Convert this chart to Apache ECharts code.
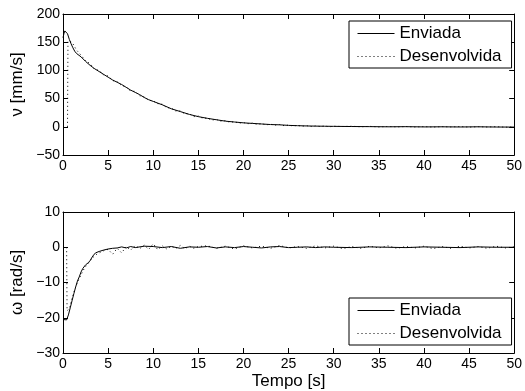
<!DOCTYPE html>
<html><head><meta charset="utf-8">
<script src="https://cdn.jsdelivr.net/npm/echarts@6/dist/echarts.min.js"></script>
<style>html,body{margin:0;padding:0;background:#fff}#c{width:525px;height:391px}</style>
</head><body><div id="c"></div>
<script>
// Top: linear velocity v [mm/s]
const tEnvV = [0,0.1,0.2,0.3,0.4,0.5,0.7,0.9,1.1,1.3,1.5,2,2.5,3,3.5,4,4.5,5,5.5,6,6.5,7,7.5,8,8.5,9,9.5,10,11,12,13,14,15,16,17,18,19,20,21,22,23,24,25,26,27,28,29,30,32,34,36,38,40,42,44,46,48,50];
const vEnv = [158,165,170,172,170,165,155,147,140,134,130,124,116,109,103,98,93,88,83,79,75,70,65,61,57,52,48,45,39,32,27,22,18,15,12.5,10,8.5,7,6,5,4,3.5,2.5,2,1.5,1.2,1,0.8,0.5,0.3,0,0.2,-0.2,0,-0.3,0,-0.4,-0.5];
const tDesV = [0.5,0.55,1,1.5,2,2.5,3,3.5,4,4.5,5,5.5,6,6.5,7,7.5,8,8.5,9,9.5,10,10.5,11,11.5,12,12.5,13,13.5,14,14.5,15,15.5,16,16.5,17,17.5,18,18.5,19,19.5,20,20.5,21,21.5,22,22.5,23,23.5,24,24.5,25,25.5,26,26.5,27,27.5,28,28.5,29,29.5,30,31,32,33,34,35,36,37,38,39,40,41,42,43,44,45,46,47,48,49,50];
const vDes = [0,152,150,136,127,117,112,102,100,92,90,82,80,73,71,63,63,55,53,47,46,41,40,34,33,28,28,23,23,18,19,15,15.5,12,13,10,11,8,9,6.5,7.5,5.5,6.5,4.5,5.5,3.5,4.5,3,4,2,3,1.5,2.5,1,2,0.5,1.5,0.5,1.5,0,1,0.5,1,0,0.8,-0.3,0.6,-0.2,0.5,-0.4,0.4,-0.5,0.3,-0.3,0.5,-0.6,0.2,-0.4,0.3,-0.7,-0.3];
// Bottom: angular velocity w [rad/s]
const tEnvW = [0,0.2,0.4,0.6,0.8,1,1.2,1.4,1.6,1.8,2,2.2,2.5,2.8,3,3.3,3.6,4,4.5,5,5.5,6,6.5,7,7.5,8,9,10,11,12,13,14,15,16,17,18,19,20,21,22,23,24,25,26,27,28,29,30,32,34,36,38,40,42,44,46,48,50];
const wEnv = [-20.5,-21,-20.6,-19.2,-17.2,-15.2,-13.2,-11.3,-9.6,-8.4,-7,-6,-5,-4.4,-3.8,-2.5,-1.6,-1.2,-0.8,-0.5,-0.3,-0.2,0.1,-0.2,0.2,-0.1,0.3,0.2,-0.1,0.2,-0.3,0.1,0,0.2,-0.2,0.1,-0.1,0.2,0,-0.2,0.1,0.2,-0.1,0,0.1,-0.1,0.1,0,-0.1,0.1,0,-0.1,0.1,0,-0.1,0.1,0,0];
const tDesW = [0.4,0.45,0.7,1,1.3,1.6,2,2.4,2.8,3.2,3.6,4,4.5,5,5.5,6,6.5,7,7.5,8,8.5,9,9.5,10,10.5,11,11.5,12,12.5,13,13.5,14,14.5,15,16,17,18,19,20,21,22,23,24,25,26,27,28,29,30,31,32,33,34,35,36,37,38,39,40,41,42,43,44,45,46,47,48,49,50];
const wDes = [0,-18,-17.5,-14.5,-12,-10,-7.8,-5.8,-4.6,-3.2,-2.2,-1.6,-1,-0.6,-2,-0.3,-1.6,0.2,-0.8,0.5,-0.4,0.6,-0.6,1,-0.7,0.4,-0.5,0.3,-0.3,0.5,-0.4,0.3,-0.3,0.2,0.4,-0.3,0.3,-0.5,0.4,-0.2,0.3,-0.3,0.5,-0.2,0.2,-0.3,0.4,-0.2,0.3,-0.4,0.2,-0.3,0.3,-0.2,0.4,-0.3,0.2,-0.2,0.3,-0.4,0.2,-0.3,0.3,-0.2,0.2,-0.3,0.3,-0.2,0.1];
const seriesNames = ['Enviada','Desenvolvida'];
const xLabel = 'Tempo [s]';
const yLabelTop = 'ν [mm/s]';
const yLabelBot = 'ω [rad/s]';

const zip = (t, v) => t.map((x, i) => [x, v[i]]);
const FONT = 'Liberation Sans, Arial, sans-serif';
const minus = v => String(v).replace('-', '\u2212');

function xAx(grid, pos, labels, name) {
  return {
    type: 'value', gridIndex: grid, position: pos, min: 0, max: 50, interval: 5,
    axisLine: {show: true, onZero: false, lineStyle: {color: '#000', width: 1}},
    axisTick: {show: true, inside: true, length: 5, lineStyle: {color: '#000'}},
    axisLabel: {show: labels, color: '#000', fontSize: 14, fontFamily: FONT, margin: 4},
    splitLine: {show: false},
    name: name || '', nameLocation: 'middle', nameGap: 20,
    nameTextStyle: {color: '#000', fontSize: 17, fontFamily: FONT}
  };
}
function yAx(grid, pos, labels, min, max, interval, name) {
  return {
    type: 'value', gridIndex: grid, position: pos, min, max, interval,
    axisLine: {show: true, onZero: false, lineStyle: {color: '#000', width: 1}},
    axisTick: {show: true, inside: true, length: 5, lineStyle: {color: '#000'}},
    axisLabel: {show: labels, color: '#000', fontSize: 14, fontFamily: FONT, margin: 3, formatter: minus},
    splitLine: {show: false},
    name: name || '', nameLocation: 'middle', nameGap: 33, nameRotate: 90,
    nameTextStyle: {color: '#000', fontSize: 17, fontFamily: FONT}
  };
}
function legendAt(top) {
  return {
    data: seriesNames, orient: 'vertical', left: 349, top: top,
    padding: [4, 10, 3, 8], itemGap: 6, itemWidth: 37, itemHeight: 17,
    borderColor: '#000', borderWidth: 1, backgroundColor: '#fff', borderRadius: 0,
    textStyle: {color: '#000', fontSize: 17, fontFamily: FONT},
    itemStyle: {opacity: 0},
    lineStyle: {width: 1},
    selectedMode: false
  };
}
function line(name, data, xi, yi, dotted) {
  return {
    name, type: 'line', data, xAxisIndex: xi, yAxisIndex: yi,
    showSymbol: false, symbol: 'none', animation: false, z: dotted ? 3 : 2,
    lineStyle: {color: '#000', width: 1, type: dotted ? [1, 3] : 'solid'},
    itemStyle: {color: '#000'}
  };
}

const chart = echarts.init(document.getElementById('c'), null, {renderer: 'canvas'});
chart.setOption({
  animation: false,
  backgroundColor: '#fff',
  grid: [
    {left: 63, top: 14, width: 454, height: 141},
    {left: 63, top: 212, width: 454, height: 141}
  ],
  xAxis: [
    xAx(0, 'bottom', true), xAx(0, 'top', false),
    xAx(1, 'bottom', true, xLabel), xAx(1, 'top', false)
  ],
  yAxis: [
    yAx(0, 'left', true, -50, 200, 50, yLabelTop), yAx(0, 'right', false, -50, 200, 50),
    yAx(1, 'left', true, -30, 10, 10, yLabelBot), yAx(1, 'right', false, -30, 10, 10)
  ],
  legend: [legendAt(21), legendAt(298)],
  series: [
    line(seriesNames[0], zip(tEnvV, vEnv), 0, 0, false),
    line(seriesNames[1], zip(tDesV, vDes), 0, 0, true),
    line(seriesNames[0], zip(tEnvW, wEnv), 2, 2, false),
    line(seriesNames[1], zip(tDesW, wDes), 2, 2, true)
  ]
});
</script></body></html>
